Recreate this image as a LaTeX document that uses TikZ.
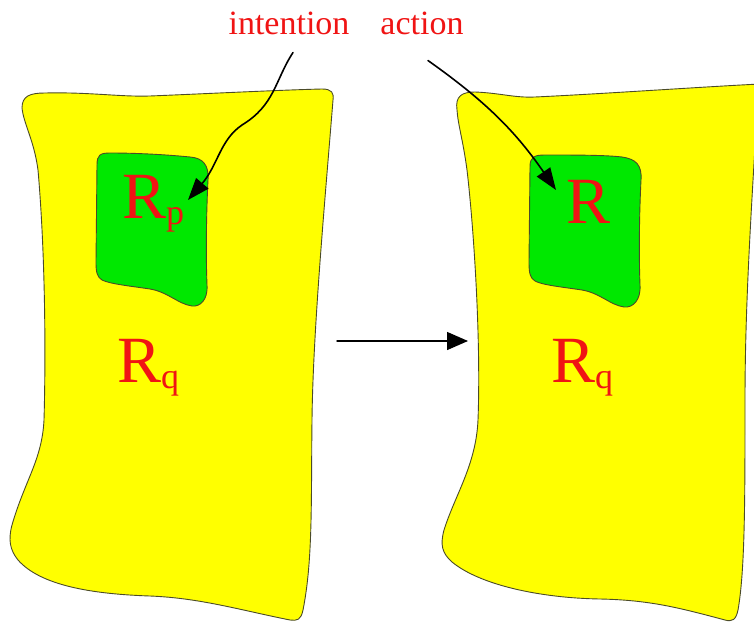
\documentclass[tikz,border=0pt]{standalone}
\usepackage{fontspec}
\setmainfont{Liberation Serif}
\usetikzlibrary{calc,arrows.meta}

\definecolor{regyellow}{RGB}{255,255,0}
\definecolor{reggreen}{RGB}{0,232,0}
\definecolor{labred}{RGB}{240,20,20}
\definecolor{edgeolive}{RGB}{75,75,40}

\begin{document}
\begin{tikzpicture}[x=1pt, y=-1pt, line cap=round, line join=round,
  region/.style={draw=edgeolive, line width=0.9pt},
  lab/.style={text=labred, font=\fontsize{34}{34}\selectfont, inner sep=0pt, anchor=base},
  big/.style={text=labred, font=\fontsize{66}{66}\selectfont, inner sep=0pt, anchor=base west},
  arr/.style={line width=1.6pt, -{Triangle[length=22pt,width=16pt]}}]
  \useasboundingbox (0,0) rectangle (754,623);

  % --- Toạ độ ---
  \coordinate (rp-tip) at (188,200);
  \coordinate (r-tip) at (556,190);
  \coordinate (step-from) at (337,341);
  \coordinate (step-to) at (468,341);

  % --- Vùng vàng bên trái ---
  \filldraw[region, fill=regyellow]
    (22,108) .. controls (22,96) and (30,93) .. (45,93)
    .. controls (90,92) and (120,97) .. (150,96)
    .. controls (200,94) and (280,90) .. (322,89)
    .. controls (332,89) and (334,93) .. (333,100)
    .. controls (325,200) and (313,330) .. (312,420)
    .. controls (311,500) and (313,560) .. (303,610)
    .. controls (301,620) and (297,621) .. (290,620)
    .. controls (240,610) and (200,598) .. (150,596)
    .. controls (90,594) and (40,585) .. (18,560)
    .. controls (10,550) and (8,540) .. (12,525)
    .. controls (25,480) and (42,460) .. (44,420)
    .. controls (46,350) and (45,250) .. (38,170)
    .. controls (34,140) and (24,125) .. (22,108) -- cycle;

  % --- Vùng vàng bên phải ---
  \filldraw[region, fill=regyellow]
    (457,110) .. controls (455,96) and (462,92) .. (475,92)
    .. controls (500,93) and (515,98) .. (535,97)
    .. controls (600,94) and (700,87) .. (760,84)
    -- (758,95)
    .. controls (752,200) and (745,300) .. (745,400)
    .. controls (745,500) and (745,570) .. (738,610)
    .. controls (736,620) and (732,622) .. (725,620)
    .. controls (680,608) and (650,600) .. (600,599)
    .. controls (540,598) and (480,585) .. (452,562)
    .. controls (442,553) and (440,545) .. (444,530)
    .. controls (455,495) and (476,465) .. (478,420)
    .. controls (481,340) and (474,230) .. (467,170)
    .. controls (463,140) and (458,125) .. (457,110) -- cycle;

  % --- Vùng xanh ---
  \filldraw[region, fill=reggreen]
    (97,165) .. controls (97,155) and (100,153) .. (110,153)
    .. controls (140,153) and (170,155) .. (190,157)
    .. controls (203,158) and (209,165) .. (208,180)
    .. controls (206,220) and (206,260) .. (207,285)
    .. controls (208,300) and (200,307) .. (192,306)
    .. controls (178,304) and (168,292) .. (150,289)
    .. controls (130,286) and (110,284) .. (102,280)
    .. controls (97,277) and (96,272) .. (96,262) -- cycle;
  \filldraw[region, fill=reggreen]
    (530,167) .. controls (530,157) and (534,155) .. (545,155)
    .. controls (575,155) and (605,155) .. (622,157)
    .. controls (636,159) and (642,165) .. (641,180)
    .. controls (639,220) and (639,260) .. (640,285)
    .. controls (641,300) and (633,308) .. (624,307)
    .. controls (610,305) and (600,293) .. (582,290)
    .. controls (562,287) and (542,285) .. (535,281)
    .. controls (530,278) and (529,273) .. (529,262) -- cycle;

  % --- Nhãn ---
  \node[lab] (intention) at (289,35) {intention};
  \node[lab] (action) at (422,35) {action};
  \node[big] (Rp) at (122,218) {R\raisebox{-6pt}{\fontsize{36}{36}\selectfont p}};
  \node[big] (R) at (566,223) {R};
  \node[big] (Rq-l) at (117,382) {R\raisebox{-6pt}{\fontsize{36}{36}\selectfont q}};
  \node[big] (Rq-r) at (551,382) {R\raisebox{-6pt}{\fontsize{36}{36}\selectfont q}};

  % --- Mũi tên ---
  \draw[line width=1.4pt, -{Triangle[length=21pt,width=18pt]}] (step-from) -- (step-to);
  \draw[arr] ($(intention.south)+(4,17)$)
    .. controls (275,80) and (275,105) .. (242,125)
    .. controls (220,140) and (218,165) .. (rp-tip);
  \draw[arr] ($(action.south)+(6,25)$) to[bend left=10] (r-tip);
\end{tikzpicture}
\end{document}
